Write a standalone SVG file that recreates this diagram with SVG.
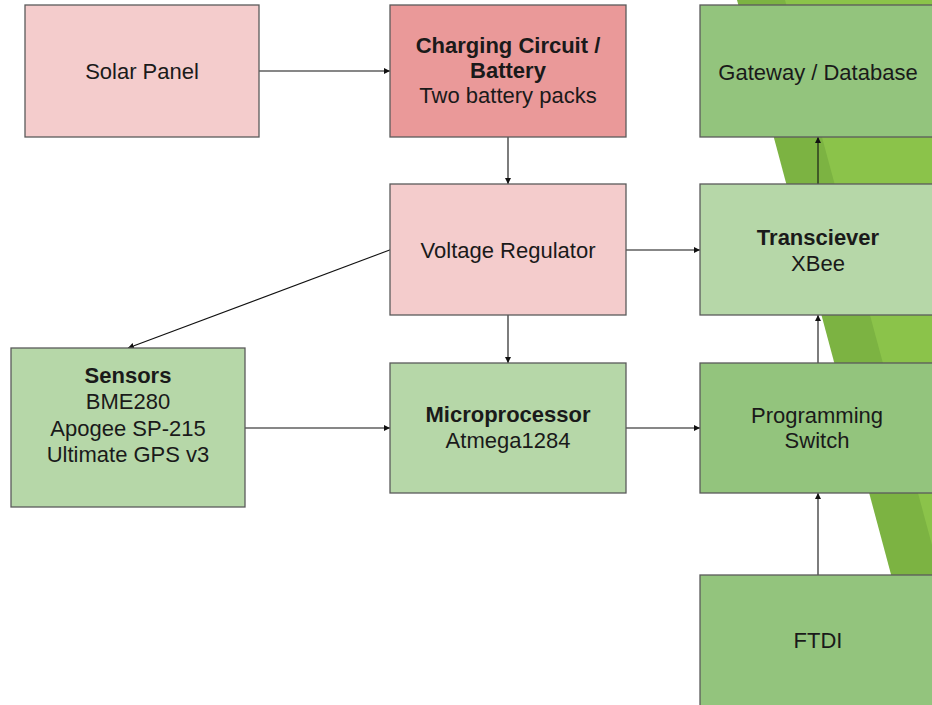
<svg xmlns="http://www.w3.org/2000/svg" width="932" height="705" viewBox="0 0 932 705">
<defs>
<style>
.box{stroke:#5b5b5b;stroke-width:1.3}
.red1{fill:#f4cccc}
.red2{fill:#ea9999}
.g1{fill:#b6d7a8}
.g2{fill:#93c47d}
text{font-family:"Liberation Sans",Arial,sans-serif;font-size:22px;fill:#1a1a1a;text-anchor:middle}
.b{font-weight:bold}
.c{stroke:#111;stroke-width:1.1;fill:none;marker-end:url(#ah)}
</style>
<marker id="ah" viewBox="0 0 8 8" refX="8" refY="4" markerWidth="6" markerHeight="6" markerUnits="userSpaceOnUse" orient="auto">
<path d="M0,0 L8,4 L0,8 Z" fill="#111"/>
</marker>
</defs>
<rect x="0" y="0" width="932" height="705" fill="#ffffff"/>
<g id="background">
<polygon points="737,0 932,0 932,705 926,705" fill="#7cb342"/>
<polygon points="785,0 932,0 932,545" fill="#8bc34a"/>
</g>
<g id="connectors">
<line class="c" x1="259" y1="71" x2="390" y2="71"/>
<line class="c" x1="508" y1="137" x2="508" y2="184"/>
<line class="c" x1="391" y1="249.5" x2="128" y2="348"/>
<line class="c" x1="626" y1="250" x2="700" y2="250"/>
<line class="c" x1="508" y1="315" x2="508" y2="363"/>
<line class="c" x1="245" y1="428" x2="390" y2="428"/>
<line class="c" x1="626" y1="428" x2="700" y2="428"/>
<line class="c" x1="818" y1="363" x2="818" y2="315"/>
<line class="c" x1="818" y1="184" x2="818" y2="137"/>
<line class="c" x1="818" y1="575" x2="818" y2="493"/>
</g>
<g id="solar-panel">
<rect class="box red1" x="25" y="5" width="234" height="132"/>
<text x="142" y="79">Solar Panel</text>
</g>
<g id="charging-circuit">
<rect class="box red2" x="390" y="5" width="236" height="132"/>
<text x="508" y="53" class="b">Charging Circuit /</text>
<text x="508" y="78" class="b">Battery</text>
<text x="508" y="103">Two battery packs</text>
</g>
<g id="gateway">
<rect class="box g2" x="700" y="5" width="240" height="132"/>
<text x="818" y="80">Gateway / Database</text>
</g>
<g id="voltage-regulator">
<rect class="box red1" x="390" y="184" width="236" height="131"/>
<text x="508" y="257.5">Voltage Regulator</text>
</g>
<g id="transceiver">
<rect class="box g1" x="700" y="184" width="240" height="131"/>
<text x="818" y="245" class="b">Transciever</text>
<text x="818" y="271">XBee</text>
</g>
<g id="sensors">
<rect class="box g1" x="11" y="348" width="234" height="159"/>
<text x="128" y="383" class="b">Sensors</text>
<text x="128" y="409">BME280</text>
<text x="128" y="435.5">Apogee SP-215</text>
<text x="128" y="462">Ultimate GPS v3</text>
</g>
<g id="microprocessor">
<rect class="box g1" x="390" y="363" width="236" height="130"/>
<text x="508" y="422" class="b">Microprocessor</text>
<text x="508" y="448">Atmega1284</text>
</g>
<g id="programming-switch">
<rect class="box g2" x="700" y="363" width="240" height="130"/>
<text x="817" y="423">Programming</text>
<text x="817" y="448">Switch</text>
</g>
<g id="ftdi">
<rect class="box g2" x="700" y="575" width="240" height="140"/>
<text x="818" y="648">FTDI</text>
</g>
</svg>
